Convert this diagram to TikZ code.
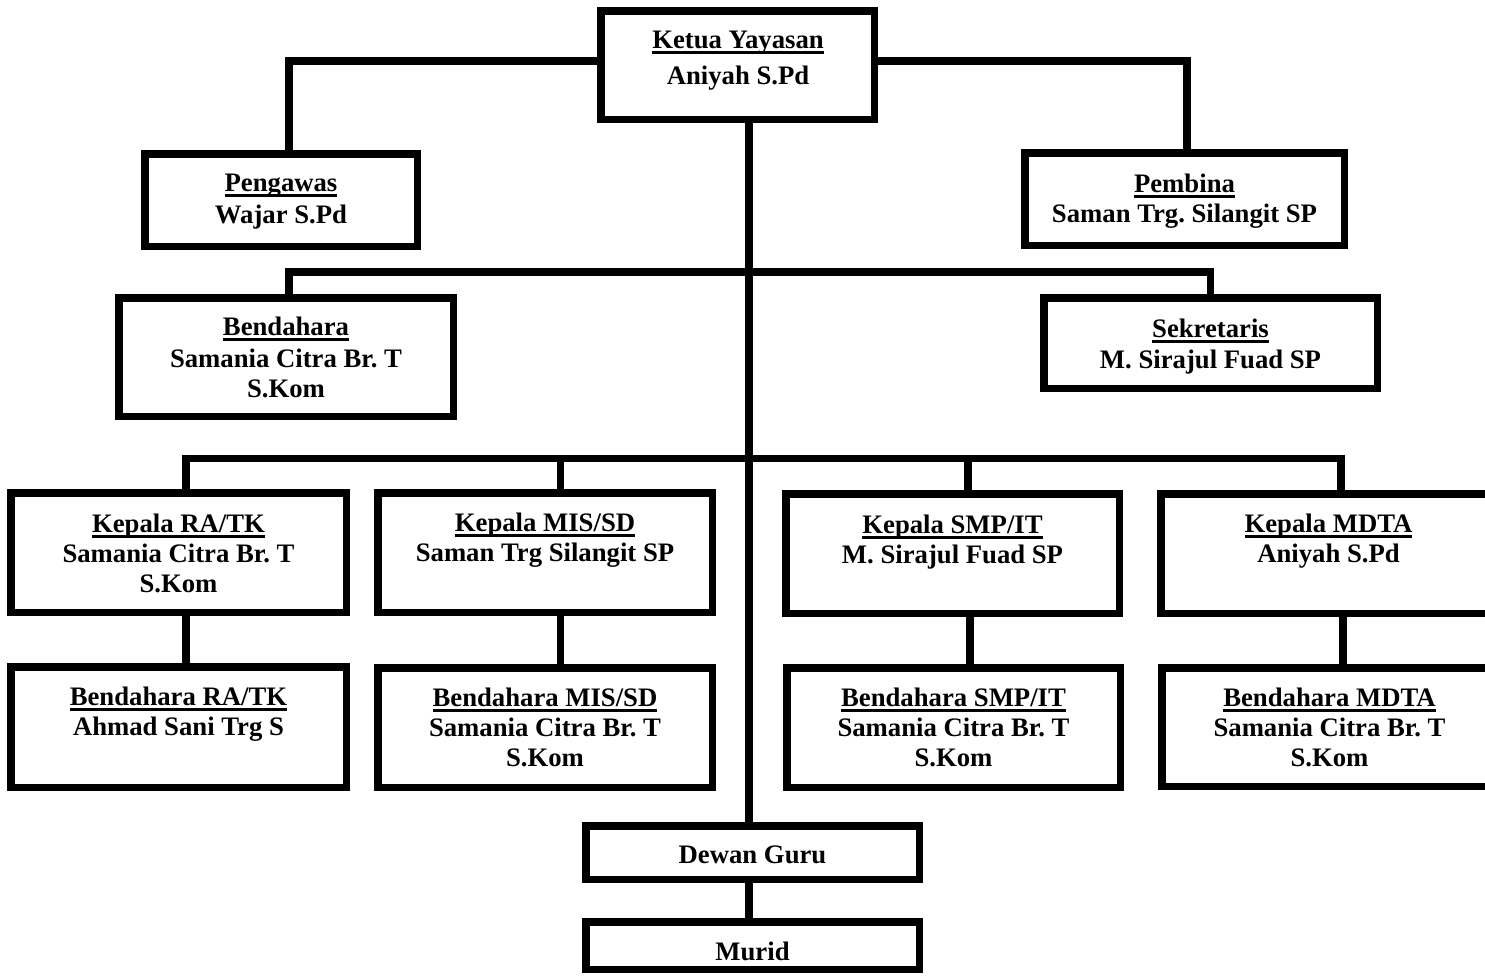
\documentclass[tikz,border=0pt]{standalone}
\usepackage{fontspec}
\setmainfont{Liberation Serif}
\usetikzlibrary{backgrounds}
\frenchspacing
\newcommand\myul[1]{\setbox0\hbox{#1}\rlap{\rule[-5.5pt]{\wd0}{2.5pt}}\box0}
\newcommand\st{\rule{0pt}{20pt}}
\begin{document}
\begin{tikzpicture}[x=1pt,y=-1pt,line join=miter,
  box/.style={draw,fill=white,rectangle,inner sep=0pt,line width=7.5pt},
  txt/.style={anchor=north,inner sep=0pt,align=center,font=\bfseries\frenchspacing\fontsize{26.7}{30}\selectfont},
  link/.style={draw,line width=7.5pt,line join=miter}]
\useasboundingbox (0,0) rectangle (1485,975);
\clip (0,0) rectangle (1485,975);
% boxes
\node[box,minimum width=273.5pt,minimum height=108.5pt] (ketua) at (737.5,65) {};
\node[box,minimum width=272.5pt,minimum height=92.5pt] (peng) at (281,200) {};
\node[box,minimum width=319.5pt,minimum height=92.5pt] (pemb) at (1184.5,199) {};
\node[box,minimum width=334.5pt,minimum height=118.5pt] (bend) at (286,357) {};
\node[box,minimum width=333.5pt,minimum height=90.5pt] (sekr) at (1210.5,343) {};
\node[box,minimum width=335.5pt,minimum height=119.5pt] (kra) at (178.5,552.5) {};
\node[box,minimum width=335.5pt,minimum height=120.5pt] (bra) at (178.5,727) {};
\node[box,minimum width=334.5pt,minimum height=119.5pt] (kmis) at (545,552.5) {};
\node[box,minimum width=334.5pt,minimum height=119.5pt] (bmis) at (545,727.5) {};
\node[box,minimum width=333.5pt,minimum height=119.5pt] (ksmp) at (952.5,553.5) {};
\node[box,minimum width=333.5pt,minimum height=119.5pt] (bsmp) at (953.5,727.5) {};
\node[box,minimum width=335.5pt,minimum height=119.5pt] (kmdta) at (1328.5,553.5) {};
\node[box,minimum width=335.5pt,minimum height=118.5pt] (bmdta) at (1329.5,727) {};
\node[box,minimum width=333.5pt,minimum height=53.5pt] (dewan) at (752.5,852.5) {};
\node[box,minimum width=333.5pt,minimum height=47.5pt] (murid) at (752.5,945.5) {};
% texts
\node[txt] (tketua) at (738,28) {\st\myul{Ketua Yayasan}\\[6pt] Aniyah S.Pd};
\node[txt] (tpeng) at (281,171) {\st\myul{Pengawas}\\[2pt] Wajar S.Pd};
\node[txt] (tpemb) at (1184.5,172) {\st\myul{Pembina}\\ Saman Trg. Silangit SP};
\node[txt] (tbend) at (286,315) {\st\myul{Bendahara}\\[2pt] Samania Citra Br. T\\ S.Kom};
\node[txt] (tsekr) at (1210.5,317) {\st\myul{Sekretaris}\\[1pt] M. Sirajul Fuad SP};
\node[txt] (tkra) at (178.5,512) {\st\myul{Kepala RA/TK}\\ Samania Citra Br. T\\ S.Kom};
\node[txt] (tbra) at (178.5,685) {\st\myul{Bendahara RA/TK}\\ Ahmad Sani Trg S};
\node[txt] (tkmis) at (545,511) {\st\myul{Kepala MIS/SD}\\ Saman Trg Silangit SP};
\node[txt] (tbmis) at (545,686) {\st\myul{Bendahara MIS/SD}\\ Samania Citra Br. T\\ S.Kom};
\node[txt] (tksmp) at (952.5,513) {\st\myul{Kepala SMP/IT}\\ M. Sirajul Fuad SP};
\node[txt] (tbsmp) at (953.5,686) {\st\myul{Bendahara SMP/IT}\\ Samania Citra Br. T\\ S.Kom};
\node[txt] (tkmdta) at (1328.5,512) {\st\myul{Kepala MDTA}\\ Aniyah S.Pd};
\node[txt] (tbmdta) at (1329.5,686) {\st\myul{Bendahara MDTA}\\ Samania Citra Br. T\\ S.Kom};
\node[txt] (tdewan) at (752.5,843) {\st Dewan Guru};
\node[txt] (tmurid) at (752.5,940) {\st Murid};
% connectors
\coordinate (sp) at (749,0);
\coordinate (h1) at (0,61);
\coordinate (h2) at (0,272);
\coordinate (h3) at (0,458.5);
\begin{pgfonlayer}{background}
\draw[link] (ketua.south -| sp) -- (dewan.north -| sp);
\draw[link] (dewan.south -| sp) -- (murid.north -| sp);
\draw[link] (ketua.west |- h1) -| ([xshift=8pt]peng.north);
\draw[link] (ketua.east |- h1) -| ([xshift=2.5pt]pemb.north);
\draw[link] ([xshift=3pt]bend.north) |- (sekr.north |- h2) -- (sekr.north);
\draw[link] ([xshift=7.5pt]kra.north) |- ([xshift=12.5pt]kmdta.north |- h3) -- ([xshift=12.5pt]kmdta.north);
\draw[link] ([xshift=15.5pt]kmis.north) -- ([xshift=15.5pt]kmis.north |- h3);
\draw[link] ([xshift=15.5pt]ksmp.north) -- ([xshift=15.5pt]ksmp.north |- h3);
\draw[link] ([xshift=7.5pt]kra.south) -- ([xshift=7.5pt]kra.south |- bra.north);
\draw[link] ([xshift=15.5pt]kmis.south) -- ([xshift=15.5pt]kmis.south |- bmis.north);
\draw[link] ([xshift=17.5pt]ksmp.south) -- ([xshift=17.5pt]ksmp.south |- bsmp.north);
\draw[link] ([xshift=14.5pt]kmdta.south) -- ([xshift=14.5pt]kmdta.south |- bmdta.north);
\end{pgfonlayer}
\end{tikzpicture}
\end{document}
